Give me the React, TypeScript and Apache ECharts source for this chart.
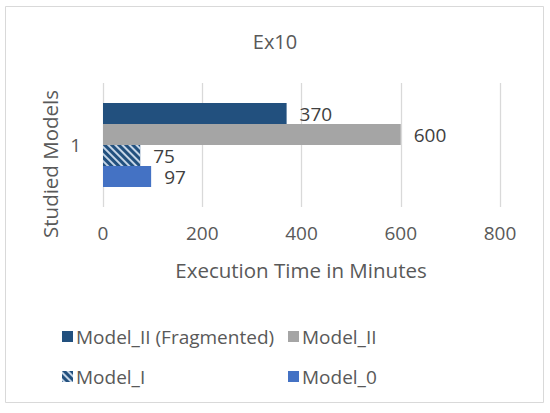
import React, { useEffect, useRef } from 'react';
import * as echarts from 'echarts';

// 数据
const categories = ['1'];
const seriesNames = ['Model_II (Fragmented)', 'Model_II', 'Model_I', 'Model_0'];
const fragmentedValues = [370];
const model2Values = [600];
const model1Values = [75];
const model0Values = [97];
const xTicks = [0, 200, 400, 600, 800];

const FONT = '"Open Sans", sans-serif';
const TEXT = '#595959';

const App = () => {
    const chartRef = useRef(null);

    useEffect(() => {
        const chart = echarts.init(chartRef.current, null, { renderer: 'svg' });

        const label = {
            show: true,
            position: 'right',
            distance: 13,
            fontFamily: FONT,
            fontSize: 19,
            color: '#404040'
        };

        const legendAt = (name, left, top) => ({
            data: [name],
            left,
            top,
            icon: 'rect',
            itemWidth: 11,
            itemHeight: 11,
            itemGap: 0,
            selectedMode: false,
            textStyle: { fontFamily: FONT, fontSize: 19, color: TEXT, padding: [0, 0, 0, -2] }
        });

        const options = {
            animation: false,
            backgroundColor: '#fff',
            title: {
                text: 'Ex10',
                left: 'center',
                top: 26,
                textStyle: { fontFamily: FONT, fontSize: 20, fontWeight: 'normal', color: TEXT }
            },
            legend: [
                legendAt(seriesNames[0], 57, 322),
                legendAt(seriesNames[1], 283, 322),
                legendAt(seriesNames[2], 57, 362),
                legendAt(seriesNames[3], 283, 362)
            ],
            grid: { left: 103, right: 50, top: 83, bottom: 206, containLabel: false },
            xAxis: {
                type: 'value',
                min: xTicks[0],
                max: xTicks[xTicks.length - 1],
                interval: 200,
                axisLine: { show: false },
                axisTick: { show: false },
                splitLine: { lineStyle: { color: '#D9D9D9', width: 1.3 } },
                axisLabel: { margin: 16, fontFamily: FONT, fontSize: 19, color: TEXT }
            },
            yAxis: {
                type: 'category',
                data: categories,
                axisLine: { show: false },
                axisTick: { show: false },
                axisLabel: { margin: 22, fontFamily: FONT, fontSize: 19, color: TEXT }
            },
            graphic: [
                {
                    type: 'rect',
                    shape: { x: 5.5, y: 6.5, width: 538, height: 396 },
                    style: { fill: 'none', stroke: '#D9D9D9', lineWidth: 1 },
                    silent: true
                },
                {
                    type: 'text',
                    x: 301,
                    y: 270,
                    style: {
                        text: 'Execution Time in Minutes',
                        fontFamily: FONT,
                        fontSize: 20.5,
                        fill: TEXT,
                        textAlign: 'center',
                        textVerticalAlign: 'middle'
                    }
                },
                {
                    type: 'text',
                    x: 50,
                    y: 164,
                    rotation: Math.PI / 2,
                    style: {
                        text: 'Studied Models',
                        fontFamily: FONT,
                        fontSize: 20.5,
                        fill: TEXT,
                        textAlign: 'center',
                        textVerticalAlign: 'middle'
                    }
                }
            ],
            series: [
                {
                    name: seriesNames[0],
                    type: 'bar',
                    data: fragmentedValues,
                    barWidth: 21,
                    barGap: '0%',
                    itemStyle: { color: '#22507E' },
                    label
                },
                {
                    name: seriesNames[1],
                    type: 'bar',
                    data: model2Values,
                    barWidth: 21,
                    barGap: '0%',
                    itemStyle: { color: '#A5A5A5' },
                    label
                },
                {
                    name: seriesNames[2],
                    type: 'bar',
                    data: model1Values,
                    barWidth: 21,
                    barGap: '0%',
                    itemStyle: {
                        color: '#22507E',
                        decal: {
                            symbol: 'rect',
                            color: 'rgba(225,235,248,0.85)',
                            dashArrayX: [1, 0],
                            dashArrayY: [1.3, 2.6],
                            rotation: Math.PI / 4
                        }
                    },
                    label
                },
                {
                    name: seriesNames[3],
                    type: 'bar',
                    data: model0Values,
                    barWidth: 21,
                    barGap: '0%',
                    itemStyle: { color: '#4472C4' },
                    label
                }
            ]
        };

        chart.setOption(options);

        return () => {
            chart.dispose();
        };
    }, []);

    return (
        <div
            ref={chartRef}
            style={{ position: 'fixed', left: 0, top: 0, width: '550px', height: '413px' }}
        ></div>
    );
};

export default App;
